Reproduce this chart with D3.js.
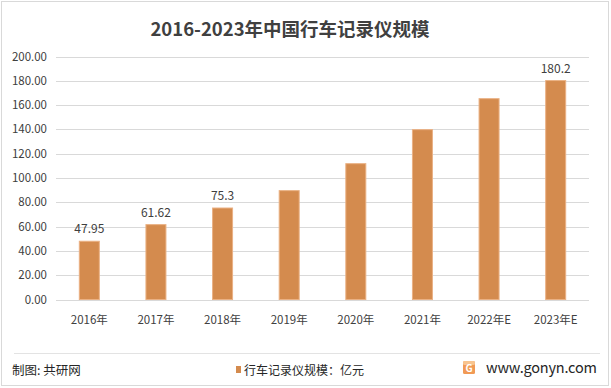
<!DOCTYPE html>
<html>
<head>
<meta charset="utf-8">
<script src="https://cdn.jsdelivr.net/npm/d3@7"></script>
<style>
  body { margin: 0; background: #fff; }
  svg { display: block; font-family: "Noto Sans CJK SC", "Noto Sans", sans-serif; }
</style>
</head>
<body>
<svg id="chart" width="611" height="388"></svg>
<script>
// chart data
const years = ["2016年", "2017年", "2018年", "2019年", "2020年", "2021年", "2022年E", "2023年E"];
const scale = [47.95, 61.62, 75.3, 89.6, 111.8, 139.8, 165.3, 180.2];
const shownLabels = ["47.95", "61.62", "75.3", null, null, null, null, "180.2"];
const yTicks = [0, 20, 40, 60, 80, 100, 120, 140, 160, 180, 200];

const svg = d3.select("#chart");
const W = 611, H = 388;
const plot = { left: 56, right: 589, top: 56.5, bottom: 299.5 };

// outer frame
svg.append("rect")
	.attr("x", 1.5).attr("y", 1.5)
	.attr("width", W - 4).attr("height", H - 4)
	.attr("fill", "#fff")
	.attr("stroke", "#d9d9d9");

svg.append("text")
	.attr("x", 290).attr("y", 36)
	.attr("text-anchor", "middle")
	.attr("font-size", 18.5).attr("font-weight", "bold")
	.attr("fill", "#404040")
	.text("2016-2023年中国行车记录仪规模");

const x = d3.scaleBand().domain(years).range([plot.left, plot.right]).paddingInner(0).paddingOuter(0);
const y = d3.scaleLinear().domain([0, 200]).range([plot.bottom, plot.top]);

// gridlines
svg.append("g")
	.selectAll("line")
	.data(yTicks)
	.join("line")
	.attr("x1", plot.left).attr("x2", plot.right)
	.attr("y1", (d) => Math.round(y(d)) + 0.5)
	.attr("y2", (d) => Math.round(y(d)) + 0.5)
	.attr("stroke", "#d9d9d9");

// y labels
svg.append("g")
	.selectAll("text")
	.data(yTicks)
	.join("text")
	.attr("x", 47).attr("y", (d) => y(d) + 4)
	.attr("text-anchor", "end")
	.attr("font-size", 11.5)
	.attr("fill", "#404040")
	.text((d) => d.toFixed(2));

// bars
const barW = 20;
svg.append("g")
	.selectAll("rect")
	.data(scale)
	.join("rect")
	.attr("x", (d, i) => x(years[i]) + x.bandwidth() / 2 - barW / 2)
	.attr("y", (d) => y(d))
	.attr("width", barW)
	.attr("height", (d) => y(0) - y(d))
	.attr("fill", "#d48b4e")
	.attr("stroke", "#eab184")
	.attr("stroke-width", 1);

// value labels
svg.append("g")
	.selectAll("text")
	.data(scale)
	.join("text")
	.attr("x", (d, i) => x(years[i]) + x.bandwidth() / 2)
	.attr("y", (d) => y(d) - 8)
	.attr("text-anchor", "middle")
	.attr("font-size", 12)
	.attr("fill", "#404040")
	.text((d, i) => shownLabels[i] || "");

// x labels
svg.append("g")
	.selectAll("text")
	.data(years)
	.join("text")
	.attr("x", (d) => x(d) + x.bandwidth() / 2)
	.attr("y", 324)
	.attr("text-anchor", "middle")
	.attr("font-size", 11.5)
	.attr("fill", "#404040")
	.text((d) => d);

// footer
svg.append("line")
	.attr("x1", 14).attr("x2", 600)
	.attr("y1", 353.5).attr("y2", 353.5)
	.attr("stroke", "#e3e3e3");

svg.append("text")
	.attr("x", 12).attr("y", 375)
	.attr("font-size", 12.5)
	.attr("fill", "#262626")
	.text("制图: 共研网");

svg.append("rect")
	.attr("x", 236).attr("y", 366)
	.attr("width", 5).attr("height", 7)
	.attr("fill", "#d48b4e");

svg.append("text")
	.attr("x", 244).attr("y", 374.5)
	.attr("font-size", 12)
	.attr("fill", "#262626")
	.text("行车记录仪规模：亿元");

// logo
const logo = svg.append("g").attr("transform", "translate(463,361)");
logo.append("rect").attr("width", 12).attr("height", 13).attr("rx", 1.5).attr("fill", "#f19a55");
logo.append("rect").attr("width", 12).attr("height", 4).attr("rx", 1.5).attr("fill", "#f8c48f");
logo.append("text")
	.attr("x", 6).attr("y", 11)
	.attr("text-anchor", "middle")
	.attr("font-size", 10).attr("font-weight", "bold")
	.attr("fill", "#fff")
	.text("G");

svg.append("text")
	.attr("x", 486).attr("y", 372.5)
	.attr("textLength", 111)
	.attr("font-size", 14.5)
	.attr("fill", "#262626")
	.text("www.gonyn.com");
</script>
</body>
</html>
